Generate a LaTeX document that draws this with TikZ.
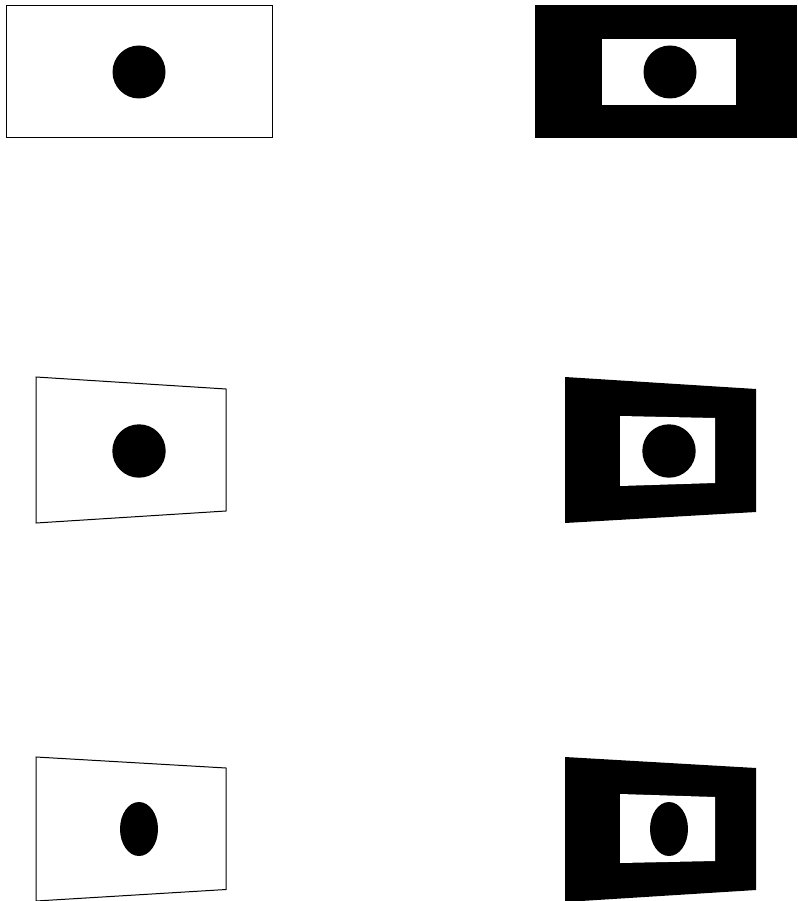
\documentclass[tikz,border=0pt]{standalone}
\begin{document}
\begin{tikzpicture}[x=1pt,y=-1pt,
  frame/.style={draw=black,line width=1pt,fill=white},
  blk/.style={fill=black},
  wht/.style={fill=white}]
\useasboundingbox (0,0) rectangle (797,901);
% panel 1
\draw[frame] (6,5.5) rectangle (272.5,137.5);
\fill[blk] (139,72) circle (26.5);
% panel 2
\fill[blk] (535,5) rectangle (797,138);
\fill[wht] (602,39) rectangle (736,105);
\fill[blk] (670,72) circle (26.5);
% panel 3
\draw[frame] (36,377) -- (226,389) -- (226,511) -- (36,523) -- cycle;
\fill[blk] (139,451) circle (26.7);
% panel 4
\fill[blk] (565,377) -- (756,389) -- (756,512) -- (565,523) -- cycle;
\fill[wht] (620,416) -- (715,418) -- (715,483) -- (620,486) -- cycle;
\fill[blk] (669,451) circle (26.7);
% panel 5
\draw[frame] (36,757) -- (226,768) -- (226,889.5) -- (36,901) -- cycle;
\fill[blk] (139,829) ellipse (19 and 27);
% panel 6
\fill[blk] (565,757) -- (756,768) -- (756,890) -- (565,902) -- cycle;
\fill[wht] (620,794) -- (715,797) -- (715,861) -- (620,863) -- cycle;
\fill[blk] (669,829) ellipse (19 and 27);
\end{tikzpicture}
\end{document}
